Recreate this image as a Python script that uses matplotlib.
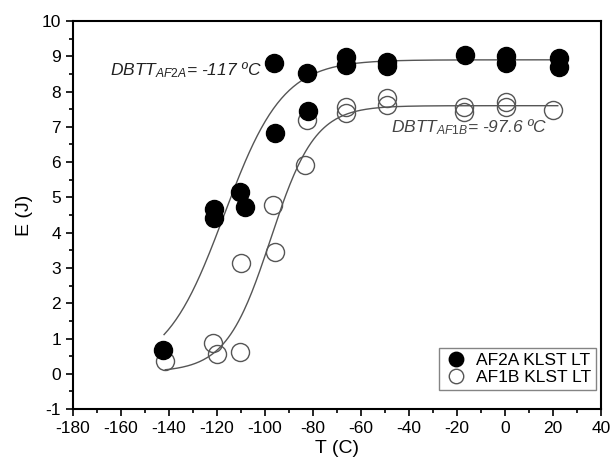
import numpy as np
import matplotlib
matplotlib.use("Agg")
import matplotlib.pyplot as plt
from matplotlib.ticker import MultipleLocator

plt.rcParams["font.family"] = ["Liberation Sans", "DejaVu Sans"]
plt.rcParams["mathtext.fontset"] = "custom"
plt.rcParams["mathtext.it"] = "Liberation Sans:italic"
plt.rcParams["mathtext.rm"] = "Liberation Sans"
plt.rcParams["axes.unicode_minus"] = False

# Charpy KLST impact energy, two materials
t_af2a = [-142.4, -121.3, -121.3, -110.4, -108.3, -96.1, -95.8, -82.4, -82.0,
          -66.3, -66.3, -49.0, -49.0, -16.8, 0.4, 0.4, 22.4, 22.4]
e_af2a = [0.68, 4.66, 4.42, 5.14, 4.72, 8.82, 6.83, 8.53, 7.46,
          8.97, 8.75, 8.85, 8.72, 9.03, 9.00, 8.82, 8.94, 8.71]

t_af1b = [-141.4, -121.5, -120.1, -110.1, -110.4, -95.8, -96.5, -82.6, -83.3,
          -66.3, -66.3, -49.2, -49.2, -17.0, -17.0, 0.4, 0.4, 20.0]
e_af1b = [0.37, 0.86, 0.56, 3.13, 0.62, 3.46, 4.78, 7.19, 5.91,
          7.55, 7.38, 7.81, 7.62, 7.57, 7.43, 7.71, 7.55, 7.48]

# tanh fits: lower shelf, upper shelf, DBTT, width
fit_af2a = (0.1, 8.9, -117.0, 24.5)
fit_af1b = (0.05, 7.6, -97.6, 18.5)


def tanh_fit(t, ls, us, t0, c):
    return (us + ls) / 2 + (us - ls) / 2 * np.tanh((t - t0) / c)


fig = plt.figure(figsize=(6.12, 4.67), dpi=100)
ax = fig.add_axes([0.119, 0.124, 0.863, 0.831])

tt = np.linspace(-142, 24, 300)
ax.plot(tt, tanh_fit(tt, *fit_af2a), color="#555555", lw=1.0, zorder=1)
tt = np.linspace(-141.5, 22, 300)
ax.plot(tt, tanh_fit(tt, *fit_af1b), color="#555555", lw=1.0, zorder=1)

ax.plot(t_af2a, e_af2a, "o", ms=13, color="black", mec="black",
        label="AF2A KLST LT", zorder=3)
ax.plot(t_af1b, e_af1b, "o", ms=13, mfc="none", mec="#555555", mew=1.0,
        label="AF1B KLST LT", zorder=2)

ax.text(-164.6, 8.6, r"$DBTT_{AF2A}$= -117 ºC", fontsize=12.5, style="italic",
        color="#222222", va="center")
ax.text(-47.5, 7.0, r"$DBTT_{AF1B}$= -97.6 ºC", fontsize=12.5, style="italic",
        color="#444444", va="center")

ax.set_xlim(-180, 40)
ax.set_ylim(-1, 10)
ax.xaxis.set_major_locator(MultipleLocator(20))
ax.xaxis.set_minor_locator(MultipleLocator(10))
ax.yaxis.set_major_locator(MultipleLocator(1))
ax.yaxis.set_minor_locator(MultipleLocator(0.5))
ax.tick_params(which="both", direction="out", top=False, right=False,
               labelsize=12.5, width=1.2)
ax.tick_params(which="major", length=5)
ax.tick_params(which="minor", length=3)
for s in ax.spines.values():
    s.set_linewidth(1.5)

ax.set_xlabel("T (C)", fontsize=14, labelpad=3)
ax.set_ylabel("E (J)", fontsize=14, labelpad=6)

leg = ax.legend(loc="lower right", fontsize=12.5, frameon=True, fancybox=False,
                handletextpad=0.4, borderpad=0.25, labelspacing=0.15,
                handlelength=1.5, markerscale=0.8, borderaxespad=0,
                bbox_to_anchor=(0.99, 0.05))
leg.get_frame().set_edgecolor("#666666")
leg.get_frame().set_linewidth(1.0)

fig.savefig("out.png", dpi=100)
